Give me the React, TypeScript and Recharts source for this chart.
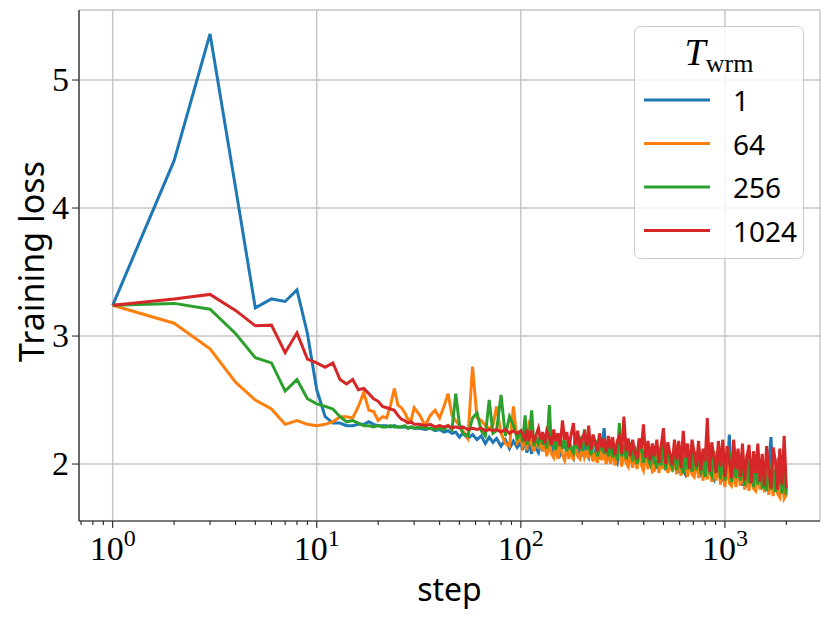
import { LineChart, Line, XAxis, YAxis, CartesianGrid } from "recharts";

// training steps (x, log scale)
const steps = [
  1, 2, 3, 4, 5, 6, 7, 8, 9, 10, 11, 12, 13, 14, 15, 16, 17, 18, 19, 20,
  21, 22, 23, 24, 25, 26, 27, 28, 29, 30,
  32, 34, 36, 38, 40, 42, 44, 46, 48, 50, 52, 55, 58, 61, 64, 67, 70, 73, 76, 80,
  84, 88, 92, 96, 100,
  102, 105, 107, 110, 113, 116, 119, 122, 125, 128,
  131, 134, 138, 141, 145, 148, 152, 156, 160, 164,
  168, 172, 176, 181, 185, 190, 195, 200, 205, 210,
  215, 220, 226, 232, 237, 243, 249, 256, 262, 269,
  275, 282, 289, 297, 304, 312, 320, 328, 336, 344,
  353, 362, 371, 380, 390, 399, 409, 420, 430, 441,
  452, 464, 475, 487, 500, 512, 525, 538, 552, 566,
  580, 594, 609, 625, 640, 656, 673, 690, 707, 725,
  743, 762, 781, 800, 820, 841, 862, 884, 906, 929,
  952, 976, 1000, 1025, 1051, 1077, 1104, 1132, 1160, 1189,
  1219, 1250, 1281, 1313, 1346, 1380, 1414, 1450, 1486, 1523,
  1562, 1601, 1641, 1682, 1724, 1768, 1812, 1858, 1904, 1952,
  2000,
];

// T_wrm = 1
const loss1 = [
  3.24, 4.37, 5.36, 4.16, 3.22, 3.29, 3.27, 3.36, 3.02, 2.58,
  2.37, 2.32, 2.32, 2.3, 2.3, 2.31, 2.31, 2.33, 2.31, 2.3,
  2.3, 2.3, 2.29, 2.3, 2.29, 2.29, 2.29, 2.28, 2.29, 2.28,
  2.28, 2.27, 2.28, 2.26, 2.27, 2.25, 2.26, 2.24, 2.25, 2.21,
  2.24, 2.2, 2.23, 2.19, 2.22, 2.16, 2.21, 2.17, 2.2, 2.14,
  2.19, 2.12, 2.18, 2.13, 2.17,
  2.11, 2.2, 2.09, 2.16, 2.08, 2.21, 2.12, 2.09, 2.18, 2.1,
  2.17, 2.08, 2.14, 2.2, 2.07, 2.09, 2.18, 2.08, 2.13, 2.19,
  2.06, 2.16, 2.09, 2.05, 2.19, 2.07, 2.12, 2.06, 2.17, 2.08,
  2.05, 2.15, 2.03, 2.1, 2.16, 2.04, 2.12, 2.28, 2.05, 2.13,
  2.02, 2.14, 2.05, 2.01, 2.12, 2.15, 2.03, 2.09, 2.02, 2.14,
  2.0, 2.11, 1.99, 2.19, 2.02, 1.98, 2.13, 2.0, 2.08, 1.99,
  2.11, 1.96, 2.04, 1.97, 2.12, 1.95, 2.16, 1.98, 2.08, 1.96,
  2.02, 1.93, 2.1, 1.95, 1.92, 2.06, 1.94, 2.09, 1.93, 2.01,
  2.07, 1.9, 1.97, 2.08, 1.89, 2.03, 1.91, 1.88, 2.06, 1.9,
  1.98, 1.86, 2.06, 1.88, 2.23, 1.85, 2.02, 1.87, 1.95, 2.05,
  1.83, 2.01, 1.82, 1.96, 2.03, 1.81, 1.99, 1.84, 2.02, 1.82,
  1.97, 1.79, 2.0, 2.21, 1.8, 1.95, 1.78, 1.99, 1.77, 1.93,
  1.79,
];

// T_wrm = 64
const loss64 = [
  3.24, 3.1, 2.9, 2.64, 2.5, 2.43, 2.31, 2.34, 2.31, 2.3,
  2.31, 2.33, 2.37, 2.37, 2.36, 2.45, 2.56, 2.42, 2.41, 2.34,
  2.37, 2.36, 2.46, 2.59, 2.46, 2.44, 2.4, 2.35, 2.34, 2.44,
  2.38, 2.3, 2.38, 2.42, 2.36, 2.45, 2.55, 2.38, 2.34, 2.3,
  2.26, 2.2, 2.76, 2.36, 2.34, 2.3, 2.28, 2.3, 2.45, 2.24,
  2.16, 2.14, 2.45, 2.17, 2.21,
  2.14, 2.2, 2.11, 2.34, 2.15, 2.1, 2.22, 2.12, 2.18, 2.1,
  2.16, 2.06, 2.18, 2.08, 2.05, 2.15, 2.04, 2.19, 2.07, 2.03,
  2.14, 2.04, 2.12, 2.03, 2.16, 2.06, 2.04, 2.13, 2.05, 2.1,
  2.04, 2.14, 2.02, 2.09, 2.01, 2.13, 2.03, 2.1, 2.0, 2.12,
  2.0, 2.11, 1.99, 2.07, 2.12, 1.98, 2.09, 2.01, 1.98, 2.1,
  1.97, 2.08, 1.96, 2.11, 1.99, 1.95, 2.07, 1.96, 2.09, 1.94,
  1.95, 2.08, 1.93, 2.03, 1.96, 2.09, 1.93, 2.01, 1.94, 2.06,
  1.92, 2.05, 1.91, 1.99, 2.07, 1.9, 2.02, 1.92, 1.9, 2.04,
  1.89, 2.03, 1.87, 1.98, 1.88, 2.05, 1.86, 1.97, 1.87, 2.02,
  1.84, 1.99, 1.82, 2.02, 1.85, 1.83, 1.97, 1.82, 2.0, 1.83,
  1.96, 1.8, 1.93, 1.79, 1.99, 1.81, 1.79, 1.95, 1.8, 1.92,
  1.78, 1.94, 1.76, 1.9, 1.75, 1.96, 1.77, 1.74, 1.93, 1.73,
  1.76,
];

// T_wrm = 256
const loss256 = [
  3.24, 3.255, 3.21, 3.02, 2.83, 2.79, 2.57, 2.66, 2.51, 2.47,
  2.45, 2.43, 2.37, 2.33, 2.34, 2.32, 2.3, 2.3, 2.29, 2.3,
  2.29, 2.29, 2.3, 2.29, 2.29, 2.29, 2.3, 2.28, 2.29, 2.28,
  2.29, 2.28, 2.28, 2.27, 2.28, 2.27, 2.3, 2.27, 2.55, 2.31,
  2.24, 2.22, 2.36, 2.4, 2.26, 2.22, 2.5, 2.24, 2.26, 2.54,
  2.22, 2.37, 2.3, 2.2, 2.25,
  2.17, 2.38, 2.15, 2.22, 2.42, 2.14, 2.2, 2.16, 2.24, 2.15,
  2.2, 2.12, 2.46, 2.14, 2.21, 2.11, 2.18, 2.22, 2.12, 2.19,
  2.1, 2.2, 2.13, 2.09, 2.21, 2.12, 2.18, 2.1, 2.27, 2.11,
  2.18, 2.07, 2.14, 2.19, 2.06, 2.12, 2.17, 2.08, 2.15, 2.06,
  2.16, 2.05, 2.13, 2.03, 2.32, 2.06, 2.15, 2.04, 2.12, 2.17,
  2.02, 2.14, 2.0, 2.1, 2.15, 2.01, 2.12, 2.04, 2.0, 2.13,
  2.03, 1.97, 2.12, 1.99, 2.2, 1.96, 2.1, 2.01, 1.97, 2.13,
  1.95, 2.11, 1.99, 1.93, 2.12, 1.96, 2.08, 1.94, 2.1, 1.95,
  2.11, 1.92, 2.05, 1.9, 2.09, 1.94, 1.91, 2.1, 1.93, 2.06,
  1.88, 2.08, 1.87, 2.02, 2.1, 1.86, 2.05, 1.89, 2.09, 1.87,
  2.04, 1.83, 2.07, 1.85, 1.99, 1.82, 2.06, 1.84, 2.02, 1.82,
  1.84, 1.79, 2.03, 1.8, 1.96, 1.78, 2.02, 2.06, 1.77, 1.95,
  1.76,
];

// T_wrm = 1024
const loss1024 = [
  3.24, 3.29, 3.325, 3.2, 3.08, 3.085, 2.87, 3.025, 2.82, 2.79,
  2.755, 2.79, 2.66, 2.625, 2.66, 2.58, 2.59, 2.55, 2.51, 2.49,
  2.45, 2.44, 2.43, 2.42, 2.38, 2.35, 2.34, 2.32, 2.33, 2.31,
  2.31, 2.3, 2.31, 2.29, 2.3, 2.29, 2.3, 2.28, 2.29, 2.28,
  2.29, 2.27, 2.28, 2.27, 2.28, 2.26, 2.27, 2.26, 2.27, 2.25,
  2.27, 2.24, 2.26, 2.24, 2.26,
  2.24, 2.18, 2.27, 2.2, 2.26, 2.17, 2.23, 2.28, 2.19, 2.25,
  2.16, 2.26, 2.21, 2.15, 2.27, 2.18, 2.24, 2.14, 2.34, 2.19,
  2.25, 2.13, 2.22, 2.32, 2.15, 2.26, 2.12, 2.21, 2.24, 2.14,
  2.3, 2.11, 2.23, 2.16, 2.1, 2.24, 2.13, 2.2, 2.09, 2.22,
  2.12, 2.21, 2.07, 2.18, 2.22, 2.08, 2.37, 2.1, 2.2, 2.06,
  2.19, 2.09, 2.04, 2.2, 2.12, 2.31, 2.05, 2.18, 2.03, 2.16,
  2.06, 2.19, 2.01, 2.14, 2.28, 2.0, 2.17, 2.08, 1.99, 2.19,
  2.03, 2.18, 1.97, 2.26, 2.05, 2.16, 1.96, 2.19, 2.09, 1.98,
  2.18, 1.95, 2.12, 2.02, 2.36, 1.94, 2.17, 2.05, 1.93, 2.18,
  1.98, 2.19, 1.9, 2.14, 2.03, 1.89, 2.19, 1.96, 2.12, 1.9,
  2.16, 1.87, 2.05, 2.15, 1.85, 2.1, 1.93, 2.16, 1.86, 2.08,
  1.83, 2.14, 1.95, 1.81, 2.13, 2.02, 1.8, 2.12, 1.84, 2.22,
  1.81,
];

const seriesKeys = ["w1", "w64", "w256", "w1024"];
const seriesNames = ["1", "64", "256", "1024"];
const seriesColors = ["#1f77b4", "#ff7f0e", "#2ca02c", "#d62728"];

const xMajorTicks = [1, 10, 100, 1000];
const xAllTicks = [
  0.7, 0.8, 0.9, 1, 2, 3, 4, 5, 6, 7, 8, 9, 10, 20, 30, 40, 50, 60, 70, 80, 90,
  100, 200, 300, 400, 500, 600, 700, 800, 900, 1000, 2000,
];
const yTicks = [2, 3, 4, 5];
const X_DOMAIN = [0.684, 2924];
const Y_DOMAIN = [1.555, 5.547];

const data = steps.map((step, i) => ({
  step,
  w1: loss1[i],
  w64: loss64[i],
  w256: loss256[i],
  w1024: loss1024[i],
}));

const SERIF = '"Liberation Serif", "DejaVu Serif", serif';
const SANS = '"Noto Sans", "DejaVu Sans", sans-serif';
const SPINE = "#222";

// draws its own tick mark: long for powers of ten, short for the minor ones
function StepTick({ x, y, payload }: any) {
  const lg = Math.log10(payload.value);
  const exp = Math.round(lg);
  const major = Math.abs(lg - exp) < 1e-6;
  return (
    <g>
      <line x1={x} x2={x} y1={y} y2={y + (major ? 7 : 4)} stroke={SPINE} strokeWidth={1.1} />
      {major && (
        <text x={x} y={y + 39} textAnchor="middle" fontFamily={SERIF} fontSize={34} fill="#000">
          10
          <tspan dy={-14} fontSize={24}>
            {exp}
          </tspan>
        </text>
      )}
    </g>
  );
}

function LossTick({ x, y, payload }: any) {
  return (
    <text x={x} y={y + 11} textAnchor="end" fontFamily={SERIF} fontSize={34} fill="#000">
      {payload.value}
    </text>
  );
}

function Legend() {
  const rowY = [100, 143.5, 187, 230.5];
  return (
    <svg
      width={830}
      height={618}
      style={{ position: "absolute", left: 0, top: 0, pointerEvents: "none" }}
    >
      <rect
        x={634.5}
        y={26.5}
        width={169}
        height={232}
        rx={6}
        fill="rgba(255,255,255,0.8)"
        stroke="#cccccc"
      />
      <text x={719} y={65} textAnchor="middle" fontFamily={SERIF} fill="#000">
        <tspan fontStyle="italic" fontSize={38}>
          T
        </tspan>
        <tspan dy={7} fontSize={26}>
          wrm
        </tspan>
      </text>
      {seriesNames.map((name, i) => (
        <g key={name}>
          <line x1={644} x2={710} y1={rowY[i]} y2={rowY[i]} stroke={seriesColors[i]} strokeWidth={3} />
          <text x={733} y={rowY[i] + 11} fontFamily={SANS} fontSize={28} fill="#000">
            {name}
          </text>
        </g>
      ))}
    </svg>
  );
}

export default function App() {
  return (
    <div style={{ position: "relative", width: 830, height: 618 }}>
      <style>{`body { margin: 0; }`}</style>
      <LineChart
        width={830}
        height={618}
        data={data}
        margin={{ top: 10, right: 10, bottom: 0, left: 0 }}
      >
        <XAxis
          xAxisId="grid"
          dataKey="step"
          type="number"
          scale="log"
          domain={X_DOMAIN}
          allowDataOverflow
          ticks={xMajorTicks}
          interval={0}
          height={0}
          hide
        />
        <CartesianGrid xAxisId="grid" yAxisId="left" stroke="#c4c4c4" strokeWidth={1.4} />
        <XAxis
          xAxisId="main"
          dataKey="step"
          type="number"
          scale="log"
          domain={X_DOMAIN}
          allowDataOverflow
          ticks={xAllTicks}
          interval={0}
          tick={<StepTick />}
          tickLine={false}
          tickSize={0}
          tickMargin={0}
          axisLine={{ stroke: SPINE, strokeWidth: 1.2 }}
          height={97}
          label={({ viewBox }: any) => (
            <text
              x={viewBox.x + viewBox.width / 2}
              y={viewBox.y + 80}
              textAnchor="middle"
              fontFamily={SANS}
              fontSize={32}
              fill="#000"
            >
              step
            </text>
          )}
        />
        <XAxis
          xAxisId="top"
          orientation="top"
          dataKey="step"
          type="number"
          scale="log"
          domain={X_DOMAIN}
          allowDataOverflow
          tick={false}
          tickLine={false}
          axisLine={{ stroke: SPINE, strokeWidth: 1.2 }}
          height={0}
        />
        <YAxis
          yAxisId="left"
          type="number"
          domain={Y_DOMAIN}
          allowDataOverflow
          ticks={yTicks}
          interval={0}
          tick={<LossTick />}
          tickSize={7}
          tickMargin={3}
          tickLine={{ stroke: SPINE }}
          axisLine={{ stroke: SPINE, strokeWidth: 1.2 }}
          width={79}
          label={({ viewBox }: any) => {
            const cx = 31;
            const cy = viewBox.y + viewBox.height / 2 - 4;
            return (
              <text
                x={cx}
                y={cy}
                transform={`rotate(-90 ${cx} ${cy})`}
                textAnchor="middle"
                dominantBaseline="central"
                fontFamily={SANS}
                fontSize={34}
                fill="#000"
              >
                Training loss
              </text>
            );
          }}
        />
        <YAxis
          yAxisId="right"
          orientation="right"
          type="number"
          domain={Y_DOMAIN}
          allowDataOverflow
          tick={false}
          tickLine={false}
          axisLine={{ stroke: SPINE, strokeWidth: 1.2 }}
          width={0}
        />
        {seriesKeys.map((key, i) => (
          <Line
            key={key}
            xAxisId="main"
            yAxisId="left"
            type="linear"
            dataKey={key}
            name={seriesNames[i]}
            stroke={seriesColors[i]}
            strokeWidth={3}
            dot={false}
            isAnimationActive={false}
          />
        ))}
      </LineChart>
      <Legend />
    </div>
  );
}
